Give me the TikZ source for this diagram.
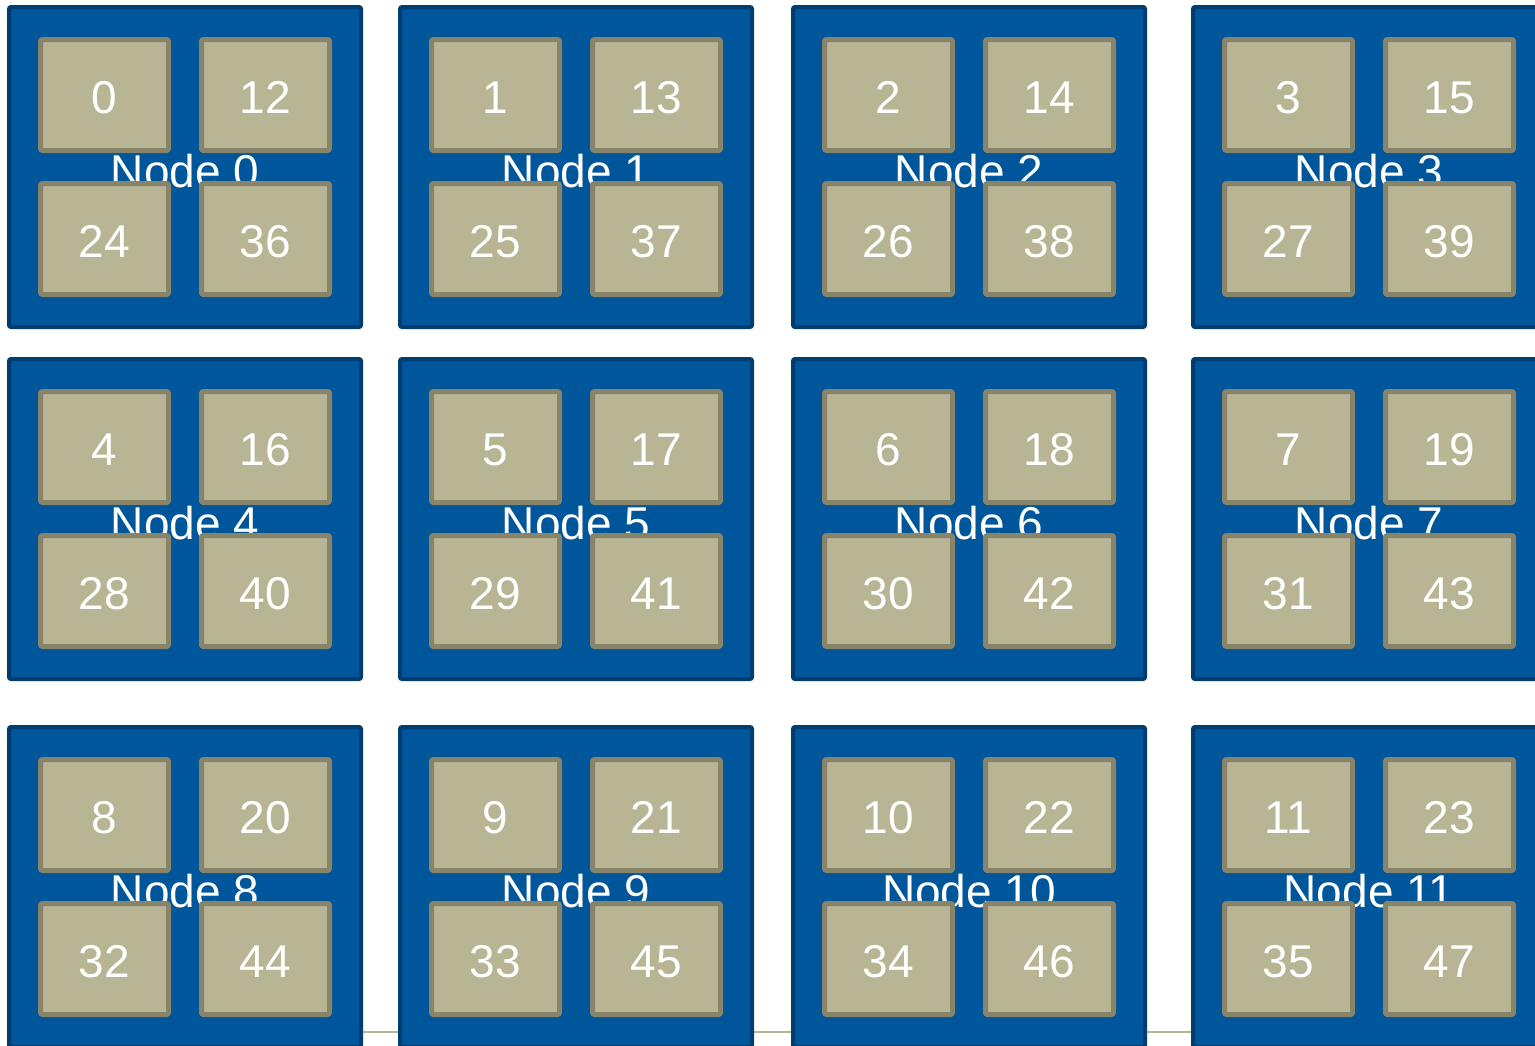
\documentclass[tikz,border=0pt]{standalone}
\usepackage{fontspec}
\setmainfont{Liberation Sans}
\definecolor{hostfill}{HTML}{00569A}
\definecolor{hostline}{HTML}{003E72}
\definecolor{corefill}{HTML}{B7B594}
\definecolor{coreline}{HTML}{878469}
\tikzset{
  hostbox/.style={draw=hostline, fill=hostfill, line width=4pt, rounded corners=2pt,
    minimum width=352pt, minimum height=320pt, inner sep=0pt},
  corebox/.style={draw=coreline, fill=corefill, line width=5pt, rounded corners=2pt,
    minimum width=128pt, minimum height=111pt, inner sep=0pt, text height=36pt, text depth=0pt,
    text=white, font=\fontsize{46}{50}\selectfont},
  hostlabel/.style={text=white, font=\fontsize{46}{50}\selectfont, inner sep=0pt, anchor=base},
  baseline line/.style={draw=corefill, line width=2pt}
}
\begin{document}
\begin{tikzpicture}[x=1pt,y=-1pt]
\clip (0,0) rectangle (1535,1045);
\fill[white] (0,0) rectangle (1535,1045);
\coordinate (lineL) at (363,1031.5);
\coordinate (lineR) at (1191,1031.5);
\draw[baseline line] (lineL) -- (lineR);
\foreach \r/\cy in {0/167,1/519,2/887}{
  \foreach \c/\cx in {0/185,1/576,2/969,3/1369}{
    \pgfmathtruncatemacro{\k}{\c+4*\r}
    \pgfmathtruncatemacro{\ka}{\k+12}
    \pgfmathtruncatemacro{\kb}{\k+24}
    \pgfmathtruncatemacro{\kc}{\k+36}
    \node[hostbox] (host\k) at (\cx,\cy) {};
    \node[hostlabel] (lab\k) at ([yshift=-20pt]host\k.center) {Node \k};
    \node[corebox] (core\k) at ([xshift=-80.5pt,yshift=72pt]host\k.center) {\k};
    \node[corebox] (core\ka) at ([xshift=80.5pt,yshift=72pt]host\k.center) {\ka};
    \node[corebox] (core\kb) at ([xshift=-80.5pt,yshift=-72pt]host\k.center) {\kb};
    \node[corebox] (core\kc) at ([xshift=80.5pt,yshift=-72pt]host\k.center) {\kc};
  }
}
\end{tikzpicture}
\end{document}
